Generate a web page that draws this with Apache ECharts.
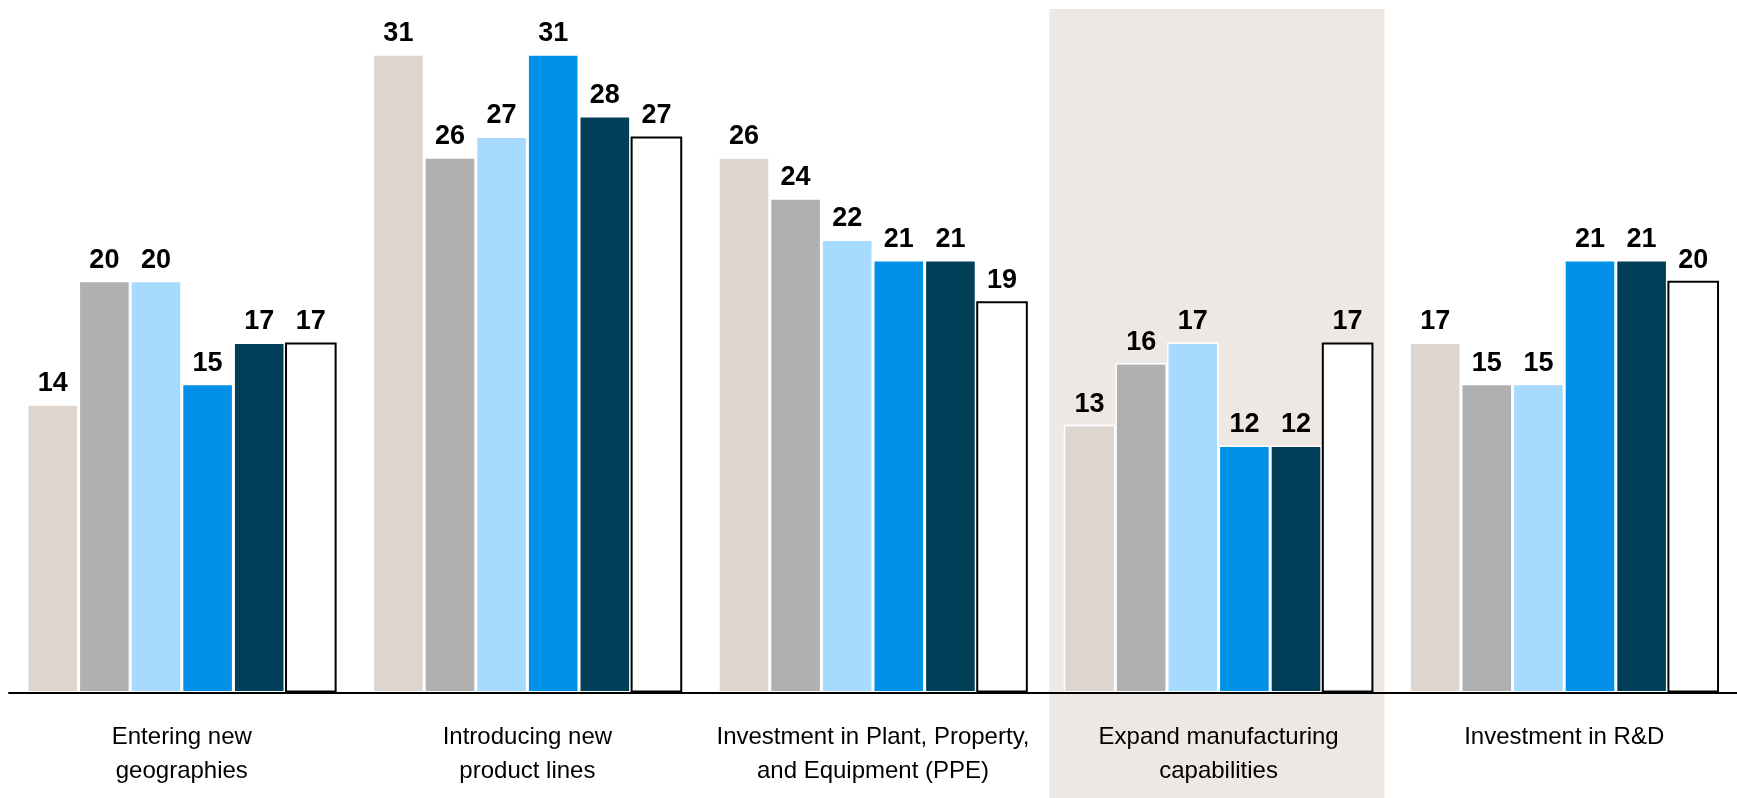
<!DOCTYPE html>
<html>
<head>
<meta charset="utf-8">
<style>
  html, body { margin: 0; padding: 0; background: #ffffff; }
  #chart { width: 1737px; height: 798px; }
</style>
<script src="https://cdn.jsdelivr.net/npm/echarts@6/dist/echarts.min.js"></script>
</head>
<body>
<div id="chart"></div>
<script>
// Categories along the x axis
const categories = [
  'Entering new\ngeographies',
  'Introducing new\nproduct lines',
  'Investment in Plant, Property,\nand Equipment (PPE)',
  'Expand manufacturing\ncapabilities',
  'Investment in R&D'
];

// One array per series, values in category order
const seriesA = [14, 31, 26, 13, 17];
const seriesB = [20, 26, 24, 16, 15];
const seriesC = [20, 27, 22, 17, 15];
const seriesD = [15, 31, 21, 12, 21];
const seriesE = [17, 28, 21, 12, 21];
const seriesF = [17, 27, 19, 17, 20];

const seriesNames = ['A', 'B', 'C', 'D', 'E', 'F'];
const seriesValues = [seriesA, seriesB, seriesC, seriesD, seriesE, seriesF];
const seriesColors = ['#ded5cf', '#b0b0b0', '#a6dbff', '#0090e8', '#003f57', '#ffffff'];

// Category that gets the shaded background
const highlightIndex = 3;

const narrow = "'Liberation Sans Narrow', 'Arial Narrow', 'Liberation Sans', Arial, sans-serif";

const chart = echarts.init(document.getElementById('chart'), null, { renderer: 'canvas' });

const series = seriesValues.map((vals, i) => {
  const outlined = i === seriesValues.length - 1;
  return {
    name: seriesNames[i],
    type: 'bar',
    data: vals,
    barGap: '0%',
    barCategoryGap: '10.4%',
    z: 3,
    itemStyle: {
      color: seriesColors[i],
      borderColor: outlined ? '#000000' : '#ffffff',
      borderWidth: outlined ? 2 : 1.5
    },
    label: {
      show: true,
      position: 'top',
      distance: 7,
      color: '#000000',
      fontFamily: narrow,
      fontWeight: 'bold',
      fontSize: 27
    }
  };
});

chart.setOption({
  animation: false,
  backgroundColor: '#ffffff',
  grid: { left: 9, right: 0, top: 13, bottom: 105.5 },
  xAxis: {
    type: 'category',
    data: categories,
    axisLine: { show: true, lineStyle: { color: '#000000', width: 2 } },
    axisTick: { show: false },
    axisLabel: {
      color: '#000000',
      fontFamily: narrow,
      fontSize: 24,
      lineHeight: 34,
      margin: 28,
      interval: 0
    },
    z: 4
  },
  yAxis: {
    type: 'value',
    min: 0,
    max: 33,
    show: false,
    splitLine: { show: false }
  },
  series: series
});

// Shaded panel behind the highlighted category, sized from its band on the axis
function drawHighlight() {
  const c0 = chart.convertToPixel({ xAxisIndex: 0 }, 0);
  const c1 = chart.convertToPixel({ xAxisIndex: 0 }, 1);
  const band = c1 - c0;
  const center = chart.convertToPixel({ xAxisIndex: 0 }, highlightIndex);
  const top = chart.convertToPixel({ yAxisIndex: 0 }, 33);
  const halfW = band * 0.485;
  chart.setOption({
    graphic: [{
      id: 'highlight',
      type: 'rect',
      z: -10,
      silent: true,
      shape: {
        x: center - band * 0.005 - halfW,
        y: top - 4,
        width: halfW * 2,
        height: chart.getHeight() - top + 4
      },
      style: { fill: '#eee8e5' }
    }]
  });
}
drawHighlight();
</script>
</body>
</html>
